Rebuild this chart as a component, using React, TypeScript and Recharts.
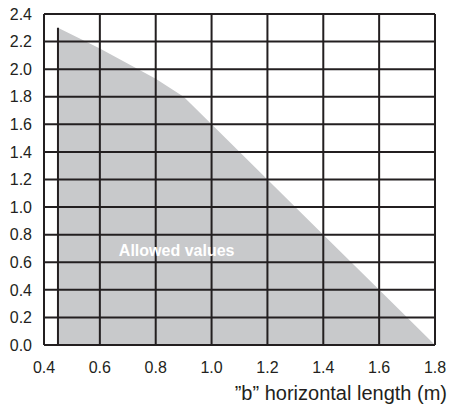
import React from "react";
import {
  ComposedChart,
  Area,
  XAxis,
  YAxis,
  ReferenceLine,
  ReferenceDot,
} from "recharts";

// boundary of the allowed region
const lengths = [0.45, 0.6, 0.8, 0.9, 1.0, 1.2, 1.4, 1.6, 1.8];
const heights = [2.3, 2.15, 1.93, 1.8, 1.6, 1.2, 0.8, 0.4, 0];

const xTicks = [0.4, 0.6, 0.8, 1.0, 1.2, 1.4, 1.6, 1.8];
const yTicks = [0, 0.2, 0.4, 0.6, 0.8, 1.0, 1.2, 1.4, 1.6, 1.8, 2.0, 2.2, 2.4];

const xTitle = "\u201Db\u201D horizontal length (m)";
const areaLabel = "Allowed values";

const data = lengths.map((x, i) => ({ x, y: heights[i] }));

const INK = "#231f20";
const FONT = "'Liberation Sans', Arial, sans-serif";

const XTitle = (props: any) => {
  const vb = props.viewBox;
  return (
    <text
      x={vb.x + vb.width + 12}
      y={400}
      textAnchor="end"
      fontSize={20}
      fontFamily={FONT}
      fill={INK}
    >
      {xTitle}
    </text>
  );
};

export default function App() {
  return (
    <div style={{ position: "absolute", left: 0, top: 0 }}>
      <ComposedChart
        width={457}
        height={404}
        data={data}
        margin={{ top: 14, right: 22, bottom: 0, left: 0 }}
      >
        <XAxis
          type="number"
          dataKey="x"
          domain={[0.4, 1.8]}
          ticks={xTicks}
          tickFormatter={(v: number) => v.toFixed(1)}
          axisLine={false}
          tickLine={false}
          tickSize={0}
          tickMargin={17}
          height={59}
          tick={{ fontSize: 16, fontFamily: FONT, fill: INK }}
          label={<XTitle />}
        />
        <YAxis
          type="number"
          domain={[0, 2.4]}
          ticks={yTicks}
          tickFormatter={(v: number) => v.toFixed(1)}
          axisLine={false}
          tickLine={false}
          tickSize={0}
          tickMargin={12}
          width={44}
          tick={{ fontSize: 16, fontFamily: FONT, fill: INK }}
        />
        <Area
          type="linear"
          dataKey="y"
          stroke="none"
          fill="#c8c9cb"
          fillOpacity={1}
          isAnimationActive={false}
        />
        {yTicks.map((y) => (
          <ReferenceLine key={`h-${y}`} y={y} stroke={INK} strokeWidth={2} />
        ))}
        {xTicks.map((x) => (
          <ReferenceLine key={`v-${x}`} x={x} stroke={INK} strokeWidth={2} />
        ))}
        <ReferenceLine
          segment={[
            { x: lengths[0], y: 0 },
            { x: lengths[0], y: heights[0] },
          ]}
          stroke={INK}
          strokeWidth={2}
        />
        <ReferenceDot
          x={0.875}
          y={0.69}
          r={0}
          stroke="none"
          fill="none"
          label={{
            value: areaLabel,
            position: "center",
            fill: "#ffffff",
            fontWeight: "bold",
            fontSize: 16,
            fontFamily: FONT,
          }}
        />
      </ComposedChart>
    </div>
  );
}
